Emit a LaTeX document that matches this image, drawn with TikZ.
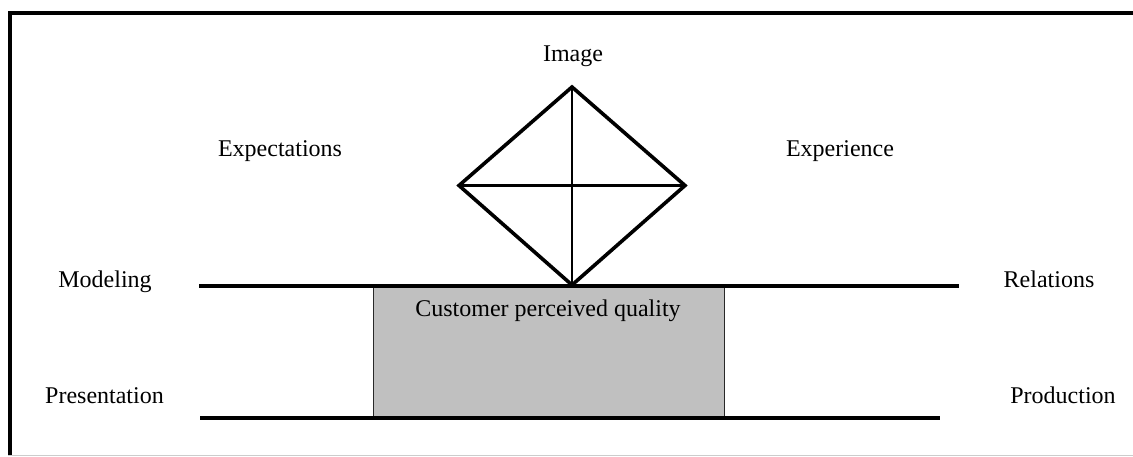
\documentclass[tikz,border=0pt]{standalone}
\usepackage{fontspec}
\setmainfont{Liberation Serif}
\begin{document}
\begin{tikzpicture}[x=0.5pt,y=-0.5pt,
  lbl/.style={anchor=base,inner sep=0pt,font=\fontsize{12}{14}\selectfont},
  thickline/.style={line width=2pt,black},
  edge/.style={line width=1.8pt,black,line join=miter},
  crossline/.style={line width=1.1pt,black},
  qualbox/.style={fill={rgb,255:red,192;green,192;blue,192},draw={rgb,255:red,40;green,40;blue,40},line width=0.7pt}]
\useasboundingbox (0,0) rectangle (1133,456);
% frame
\coordinate (ftl) at (8,13);
\coordinate (ftr) at (1133,13);
\coordinate (fl) at (10,11);
\coordinate (fbl) at (10,456);
\coordinate (bl) at (8,455.5);
\coordinate (br) at (1133,455.5);
\draw[line width=2pt] (ftl) -- (ftr);
\draw[line width=2pt] (fl) -- (fbl);
\draw[line width=0.6pt,black!20] (bl) -- (br);
% quality box
\node[qualbox,rectangle,minimum width=175.5pt,minimum height=67pt,inner sep=0pt,anchor=north west] (box) at (373,284) {};
\node[lbl] (cpq) at (548,316) {Customer perceived quality};
% horizontal lines
\coordinate (u1) at (199,286);
\coordinate (u2) at (959,286);
\coordinate (l1) at (200,418);
\coordinate (l2) at (940,418);
\draw[thickline] (u1) -- (u2);
\draw[thickline] (l1) -- (l2);
% diamond
\coordinate (dt) at (572,87);
\coordinate (dl) at (459,185.5);
\coordinate (dr) at (685,185.5);
\coordinate (db) at (572,285);
\draw[crossline] (dt) -- (db);
\draw[crossline] (dl) -- (dr);
\draw[edge] (dt) -- (dr) -- (db) -- (dl) -- cycle;
% labels
\node[lbl] (image) at (573,61) {Image};
\node[lbl] (expect) at (280,156) {Expectations};
\node[lbl] (exper) at (840,156) {Experience};
\node[lbl] (model) at (105,287) {Modeling};
\node[lbl] (rel) at (1049,287) {Relations};
\node[lbl] (pres) at (104.5,403) {Presentation};
\node[lbl] (prod) at (1063,403) {Production};
\end{tikzpicture}
\end{document}
